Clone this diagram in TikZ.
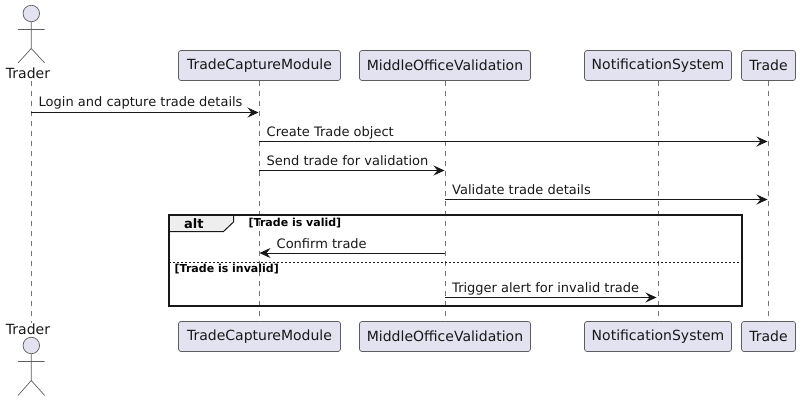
\documentclass[tikz,border=0pt]{standalone}
\usepackage{fontspec}
\setmainfont{DejaVu Sans}
\usetikzlibrary{arrows.meta}
\definecolor{partfill}{HTML}{E2E2F0}
\definecolor{partline}{HTML}{181818}
\definecolor{tabfill}{HTML}{EEEEEE}
\begin{document}
\begin{tikzpicture}[x=1pt,y=-1pt,
        part/.style={draw=partline!70,line width=0.7pt,fill=partfill,rounded corners=2.5pt,minimum height=30pt,inner sep=0pt,text=partline,font=\fontsize{14}{16}\selectfont},
        actorshape/.style={draw=partline!70,line width=0.7pt},
        actorlabel/.style={text=partline,inner sep=0pt,font=\fontsize{14}{16}\selectfont},
        lifeline/.style={draw=partline!60,line width=0.6pt,dash pattern=on 5pt off 5pt},
        msg/.style={draw=partline,line width=0.9pt,-{Stealth[length=11pt,width=10pt,inset=4pt]}},
        msglabel/.style={anchor=base west,inner sep=0pt,text=partline,font=\fontsize{13}{15}\selectfont},
        guardlabel/.style={anchor=base west,inner sep=0pt,font=\fontsize{11}{13}\selectfont\bfseries}]
        \useasboundingbox (0,0) rectangle (800,401);
        % Draw top and bottom boxes
        \node[part,minimum width=162pt] (captureTop) at (259.5,65.5) {TradeCaptureModule};
        \node[part,minimum width=171pt] (officeTop) at (445,65.5) {MiddleOfficeValidation};
        \node[part,minimum width=147pt] (notifyTop) at (658,65.5) {NotificationSystem};
        \node[part,minimum width=54pt] (tradeTop) at (768.5,65.5) {Trade};
        \node[part,minimum width=162pt] (captureBot) at (259.5,336.5) {TradeCaptureModule};
        \node[part,minimum width=171pt] (officeBot) at (445,336.5) {MiddleOfficeValidation};
        \node[part,minimum width=147pt] (notifyBot) at (658,336.5) {NotificationSystem};
        \node[part,minimum width=54pt] (tradeBot) at (768.5,336.5) {Trade};
        % Draw actors
        \node[actorlabel] (traderTop) at (28,73) {Trader};
        \node[actorlabel] (traderBot) at (28,329) {Trader};
        \node[actorshape,circle,fill=partfill,minimum size=16.5pt,inner sep=0pt] (headTop) at (31.3,13.5) {};
        \node[actorshape,circle,fill=partfill,minimum size=16.5pt,inner sep=0pt] (headBot) at (31.3,345.5) {};
        \draw[actorshape] (headTop.south) -- (31.3,48.5) (18,29.5) -- (44.7,29.5) (18,63) -- (31.3,48.5) -- (44.7,63);
        \draw[actorshape] (headBot.south) -- (31.3,380.5) (18,361.5) -- (44.7,361.5) (18,395.5) -- (31.3,380.5) -- (44.7,395.5);
        % Draw lifelines
        \coordinate (traderStart) at (31.3,81);
        \coordinate (traderEnd) at (31.3,323);
        \draw[lifeline] (traderStart) -- (traderEnd);
        \draw[lifeline] (captureTop) -- (captureBot);
        \draw[lifeline] (officeTop) -- (officeBot);
        \draw[lifeline] (notifyTop) -- (notifyBot);
        \draw[lifeline] (tradeTop) -- (tradeBot);
        % Draw alt frame
        \draw[fill=tabfill,draw=partline,line width=1pt] (168.5,214.5) -- (233.5,214.5) -- (233.5,222) -- (223.5,231.5) -- (168.5,231.5) -- cycle;
        \node[draw=partline,line width=2pt,minimum width=573pt,minimum height=91pt,inner sep=0pt] (altFrame) at (455,260) {};
        \node[anchor=base west,inner sep=0pt,font=\fontsize{13}{15}\selectfont\bfseries] (altLabel) at (184,228) {alt};
        \node[guardlabel] (validLabel) at (248.5,226.5) {[Trade is valid]};
        \node[guardlabel] (invalidLabel) at (174.5,272) {[Trade is invalid]};
        % Draw dotted line
        \coordinate (sepLeft) at (168.5,262);
        \coordinate (sepRight) at (741.5,262);
        \draw[partline,line width=0.7pt,dash pattern=on 2pt off 2pt] (sepLeft) -- (sepRight);
        % Draw messages
        \coordinate (loginA) at (31.3,112.5);
        \coordinate (loginB) at (258.5,112.5);
        \coordinate (createA) at (259,141.5);
        \coordinate (createB) at (767.5,141.5);
        \coordinate (sendA) at (259,170.5);
        \coordinate (sendB) at (444.5,170.5);
        \coordinate (checkA) at (445,199.5);
        \coordinate (checkB) at (767.5,199.5);
        \coordinate (confirmA) at (444.5,253);
        \coordinate (confirmB) at (259.5,253);
        \coordinate (alertA) at (445,297.5);
        \coordinate (alertB) at (656.5,297.5);
        \draw[msg] (loginA) -- (loginB);
        \draw[msg] (createA) -- (createB);
        \draw[msg] (sendA) -- (sendB);
        \draw[msg] (checkA) -- (checkB);
        \draw[msg] (confirmA) -- (confirmB);
        \draw[msg] (alertA) -- (alertB);
        % Draw message text
        \node[msglabel] (loginText) at (38.5,107) {Login and capture trade details};
        \node[msglabel] (createText) at (266.5,136) {Create Trade object};
        \node[msglabel] (sendText) at (266.5,165) {Send trade for validation};
        \node[msglabel] (checkText) at (452,194) {Validate trade details};
        \node[msglabel] (confirmText) at (276.5,248) {Confirm trade};
        \node[msglabel] (alertText) at (452,292) {Trigger alert for invalid trade};
    \end{tikzpicture}
\end{document}
